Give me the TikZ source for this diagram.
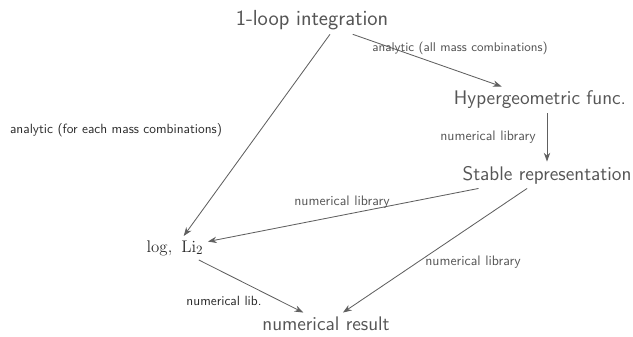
\documentclass[tikz,border=0pt]{standalone}
\usepackage{amsmath,amssymb}
\usepackage{tikz}
\usetikzlibrary{arrows.meta,positioning,calc}
\definecolor{Ink}{HTML}{555555}
\definecolor{Line}{HTML}{606060}
\definecolor{Dark}{HTML}{2A2A2A}

\begin{document}
\begin{tikzpicture}[
    stage/.style={text=Ink,font=\sffamily\fontsize{14}{16}\selectfont,inner sep=3pt},
    lbl/.style={text=Ink,font=\sffamily\fontsize{9.8}{11}\selectfont,inner sep=1pt},
    dlbl/.style={lbl,text=Dark,font=\sffamily\fontsize{9.5}{11}\selectfont},
    arr/.style={-{Stealth[length=2.2mm,width=1.6mm]},line width=0.6pt,Line}
  ]
    \useasboundingbox (0,0) rectangle (15.825,8.4);
    % stages of the computation
    \node[stage,font=\sffamily\fontsize{15.5}{18}\selectfont] (loop) at (7.8,7.9) {1-loop integration};
    \node[stage] (hyp) at (13.5,5.9) {Hypergeometric func.};
    \node[stage] (stab) at (13.675,4.025) {Stable representation};
    \node[stage,text=Dark,font=\fontsize{13}{16}\selectfont] (logli) at (4.375,2.2) {$\log,\ \mathrm{Li}_2$};
    \node[stage] (res) at (8.15,0.3) {numerical result};
    % connectors
    \draw[arr] ([xshift=0.45cm]loop.south) -- (logli);
    \draw[arr] (loop) -- (hyp);
    \draw[arr] (hyp.south -| stab.north) -- (stab.north -| stab.north);
    \draw[arr] (stab) -- (logli);
    \draw[arr] (stab) -- (res);
    \draw[arr] (logli) -- (res);
    % labels
    \node[lbl,font=\sffamily\fontsize{9}{11}\selectfont] (l1) at (11.5,7.2) {analytic (all mass combinations)};
    \node[dlbl] (l2) at (2.9,5.15) {analytic (for each mass combinations)};
    \node[lbl] (l3) at (12.2,4.975) {numerical library};
    \node[lbl] (l4) at (8.55,3.35) {numerical library};
    \node[lbl] (l5) at (11.825,1.85) {numerical library};
    \node[dlbl] (l6) at (5.6,0.875) {numerical lib.};
  \end{tikzpicture}
\end{document}
